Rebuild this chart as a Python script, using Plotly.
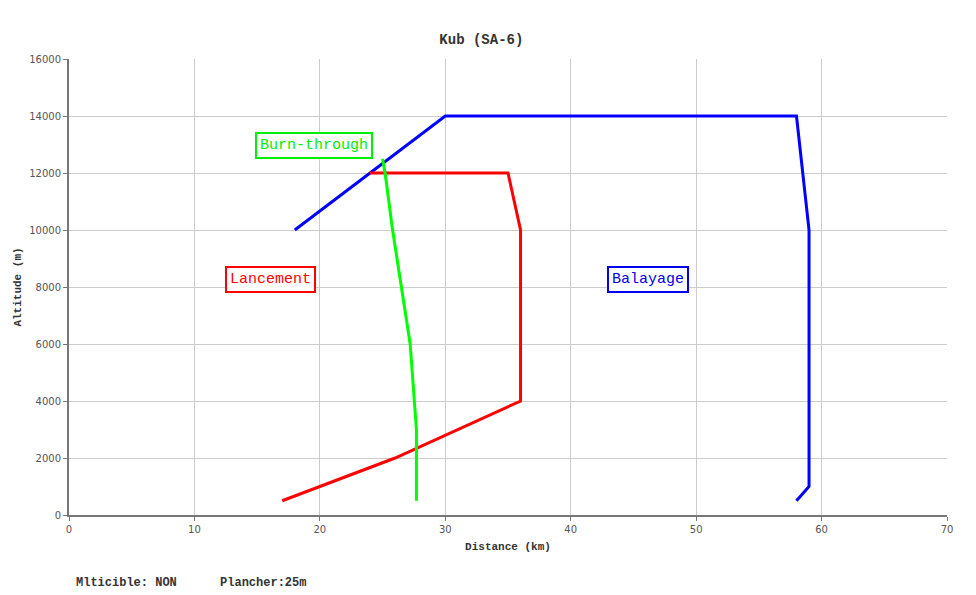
import plotly.graph_objects as go

# Data
balayage_x = [18, 30, 58, 59, 59, 58]
balayage_y = [10000, 14000, 14000, 10000, 1000, 500]

lancement_x = [17, 26, 36, 36, 35, 24]
lancement_y = [500, 2000, 4000, 10000, 12000, 12000]

burn_x = [27.7, 27.7, 27.2, 26.5, 25.8, 25.2, 25.0]
burn_y = [500, 3000, 6000, 8000, 10000, 12000, 12500]

labels = ["Burn-through", "Lancement", "Balayage"]
label_x = [19.5, 16.1, 46.2]
label_y = [12950, 8280, 8280]
label_colors = ["#00ee00", "#ff0000", "#0000ee"]

title_text = "Kub (SA-6)"
footer_text = "Mlticible: NON      Plancher:25m"

mono = "Liberation Mono, Courier New, monospace"

fig = go.Figure()
fig.add_trace(go.Scatter(x=balayage_x, y=balayage_y, mode="lines",
                         line=dict(color="#0000ff", width=3), showlegend=False))
fig.add_trace(go.Scatter(x=lancement_x, y=lancement_y, mode="lines",
                         line=dict(color="#ff0000", width=3), showlegend=False))
fig.add_trace(go.Scatter(x=burn_x, y=burn_y, mode="lines",
                         line=dict(color="#00ff00", width=3), showlegend=False))

for t, x, y, c in zip(labels, label_x, label_y, label_colors):
    fig.add_annotation(x=x, y=y, text=t, showarrow=False,
                       font=dict(family=mono, size=15, color=c),
                       bordercolor=c, borderwidth=2, borderpad=3,
                       bgcolor="white")

fig.add_annotation(x=0.0, y=-0.125, xref="paper", yref="paper",
                   xanchor="left", yanchor="top", xshift=5, yshift=-2,
                   text="<b>" + footer_text.replace(" ", "&nbsp;") + "</b>",
                   showarrow=False,
                   font=dict(family=mono, size=12, color="#333333"))

fig.update_layout(
    width=976, height=595,
    margin=dict(l=61, r=37, t=51, b=88),
    paper_bgcolor="white", plot_bgcolor="white",
    title=dict(text="<b>" + title_text + "</b>", x=0.485, xanchor="center",
               y=0.948, yanchor="middle",
               font=dict(family=mono, size=14, color="#333333")),
)
fig.update_xaxes(range=[0, 70], dtick=10, showgrid=True, gridcolor="#cccccc",
                 gridwidth=1, showline=True, linecolor="#777777", linewidth=2,
                 ticks="outside", ticklen=4, tickcolor="#777777",
                 zeroline=False, automargin=False,
                 tickfont=dict(family="DejaVu Sans", size=10, color="#555555"),
                 title=dict(text="<b>Distance (km)</b>", standoff=8,
                            font=dict(family=mono, size=11, color="#333333")))
fig.update_yaxes(range=[0, 16000], dtick=2000, tickformat="d",
                 showgrid=True, gridcolor="#cccccc",
                 gridwidth=1, showline=True, linecolor="#777777", linewidth=2,
                 ticks="outside", ticklen=4, tickcolor="#777777",
                 zeroline=False, automargin=False,
                 tickfont=dict(family="DejaVu Sans", size=10, color="#555555"),
                 title=dict(text="<b>Altitude (m)</b>", standoff=5,
                            font=dict(family=mono, size=11, color="#333333")))

fig.write_html("out.html")
